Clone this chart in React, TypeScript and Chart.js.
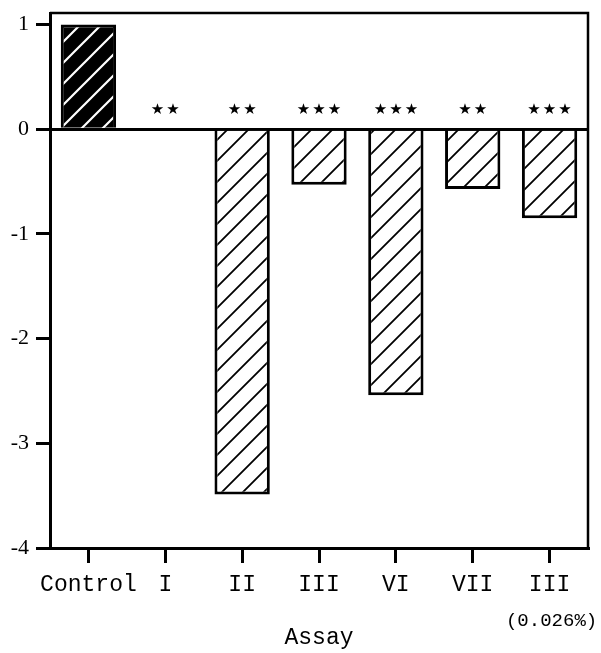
import React, { useEffect, useRef } from "react";
import { Chart, registerables } from "chart.js";

Chart.register(...registerables);

const categories = ["Control", "I", "II", "III", "VI", "VII", "III"];
const values = [1.0, 0, -3.49, -0.53, -2.54, -0.57, -0.85];
const significance = ["", "**", "**", "***", "***", "**", "***"];
const subLabels = ["", "", "", "", "", "", "(0.026%)"];
const yMin = -4;
const yMax = 1.11;
const axisTitle = "Assay";

function makeHatch(bg: string, fg: string, lw: number, S: number) {
  const c = document.createElement("canvas");
  c.width = S;
  c.height = S;
  const g = c.getContext("2d")!;
  g.fillStyle = bg;
  g.fillRect(0, 0, S, S);
  g.strokeStyle = fg;
  g.lineWidth = lw;
  g.lineCap = "square";
  g.beginPath();
  g.moveTo(0, S);
  g.lineTo(S, 0);
  g.moveTo(-2, 2);
  g.lineTo(2, -2);
  g.moveTo(S - 2, S + 2);
  g.lineTo(S + 2, S - 2);
  g.stroke();
  const p = g.createPattern(c, "repeat");
  return p as CanvasPattern;
}

export default function App() {
  const ref = useRef<HTMLCanvasElement | null>(null);

  useEffect(() => {
    const canvas = ref.current!;
    const ctx = canvas.getContext("2d")!;
    const dark = makeHatch("#000000", "#ffffff", 2.2, 21);
    const light = makeHatch("#ffffff", "#000000", 1.8, 21);

    const framePlugin = {
      id: "frameAndStars",
      afterDraw(chart: any) {
        const c = chart.ctx;
        const a = chart.chartArea;
        const x = chart.scales.x;
        const y = chart.scales.y;
        c.save();
        c.strokeStyle = "#000";
        c.lineWidth = 2.5;
        c.beginPath();
        c.moveTo(a.left, a.top);
        c.lineTo(a.right, a.top);
        c.lineTo(a.right, a.bottom);
        c.stroke();
        // significance stars
        c.fillStyle = "#000";
        c.font = "15px 'DejaVu Sans'";
        c.textAlign = "center";
        c.textBaseline = "middle";
        const y0 = y.getPixelForValue(0);
        significance.forEach((s, i) => {
          const n = s.length;
          const cx = x.getPixelForValue(i);
          for (let k = 0; k < n; k++) {
            c.fillText("★", cx + (k - (n - 1) / 2) * 15.5, y0 - 19);
          }
        });
        // sub labels
        c.font = "19px 'Liberation Mono'";
        subLabels.forEach((s, i) => {
          if (!s) return;
          c.fillText(s, x.getPixelForValue(i) + 2, a.bottom + 73);
        });
        c.restore();
      },
    };

    const chart = new Chart(ctx, {
      type: "bar",
      data: {
        labels: categories,
        datasets: [
          {
            data: values,
            backgroundColor: values.map((_, i) => (i === 0 ? dark : light)) as any,
            borderColor: "#000",
            borderWidth: 3,
            borderSkipped: "start",
            barPercentage: 0.72,
            categoryPercentage: 1,
          },
        ],
      },
      options: {
        responsive: false,
        animation: false,
        layout: { padding: { top: 13, right: 13, left: 0, bottom: 0 } },
        plugins: {
          legend: { display: false },
          tooltip: { enabled: false },
        },
        scales: {
          x: {
            offset: true,
            grid: {
              offset: false,
              drawOnChartArea: false,
              drawTicks: true,
              tickLength: 15,
              tickWidth: 3,
              tickColor: "#000",
              color: "#000",
              lineWidth: 3,
            },
            border: { display: true, color: "#000", width: 3 },
            ticks: {
              color: "#000",
              font: { family: "'Liberation Mono'", size: 23 },
              padding: 8,
              maxRotation: 0,
              autoSkip: false,
            },
            title: {
              display: true,
              text: axisTitle,
              color: "#000",
              font: { family: "'Liberation Mono'", size: 23 },
              padding: { top: 0, bottom: 1 },
            },
            afterFit(scale: any) {
              scale.height = 105;
              scale.paddingLeft = 0;
              scale.paddingRight = 0;
            },
          },
          y: {
            min: yMin,
            max: yMax,
            grid: {
              drawOnChartArea: true,
              drawTicks: true,
              tickLength: 14,
              tickWidth: 3,
              tickColor: "#000",
              lineWidth: 3,
              color: (c: any) => (c.tick && c.tick.value === 0 ? "#000" : "rgba(0,0,0,0)"),
            },
            border: { display: true, color: "#000", width: 3 },
            ticks: {
              stepSize: 1,
              includeBounds: false,
              color: "#000",
              font: { family: "'Liberation Serif'", size: 22 },
              padding: 7,
              callback: (v: any) => String(v),
            },
            afterBuildTicks(scale: any) {
              scale.ticks = scale.ticks.filter((t: any) => Number.isInteger(t.value));
            },
            afterFit(scale: any) {
              scale.width = 50;
              scale.paddingTop = 0;
              scale.paddingBottom = 0;
            },
          },
        },
      },
      plugins: [framePlugin],
    });
    return () => chart.destroy();
  }, []);

  return (
    <canvas
      ref={ref}
      width={601}
      height={653}
      style={{ position: "absolute", left: 0, top: 0, display: "block", width: 601, height: 653 }}
    />
  );
}
